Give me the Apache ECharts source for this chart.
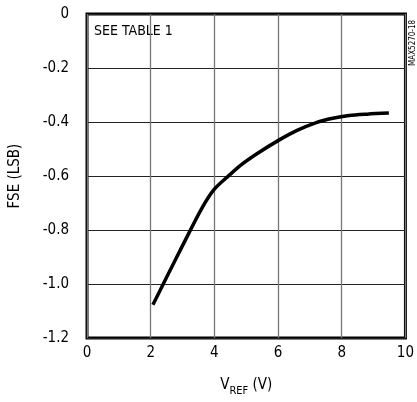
<!DOCTYPE html>
<html><head><meta charset="utf-8">
<script src="https://cdn.jsdelivr.net/npm/echarts@6/dist/echarts.min.js"></script>
<style>html,body{margin:0;padding:0;background:#fff}#c{width:417px;height:402px}</style>
</head><body><div id="c"></div>
<script>
const xTicks = [0, 2, 4, 6, 8, 10];
const yTicks = [0, -0.2, -0.4, -0.6, -0.8, -1.0, -1.2];
const vref = [2.07, 2.5, 3.0, 3.61, 4.0, 4.48, 4.84, 5.36, 6.0, 6.58, 7.2, 7.72, 8.23, 8.8, 9.48];
const fse  = [-1.077, -0.975, -0.858, -0.719, -0.649, -0.596, -0.559, -0.516, -0.469, -0.432, -0.402, -0.386, -0.376, -0.371, -0.367];
const FONT = '"DejaVu Sans Condensed","Liberation Sans Narrow","Arial Narrow",sans-serif';
const chart = echarts.init(document.getElementById('c'));
chart.setOption({
  animation: false,
  backgroundColor: '#fff',
  grid: {left: 82, right: 10, top: 14, bottom: 63, show: true, borderColor: '#000', borderWidth: 3, backgroundColor: 'transparent'},
  xAxis: {
    type: 'value', min: 0, max: 10, interval: 2,
    axisLine: {show: false}, axisTick: {show: false},
    splitLine: {show: true, lineStyle: {color: '#777', width: 1.3}},
    axisLabel: {color: '#000', fontFamily: FONT, fontSize: 15, margin: 8,
      formatter: v => xTicks.includes(v) ? String(v) : ''},
    name: '{v|V}{s|REF}{v| (V)}', nameLocation: 'middle', nameGap: 40,
    nameTextStyle: {rich: {
      v: {fontFamily: FONT, fontSize: 15, color: '#000'},
      s: {fontFamily: FONT, fontSize: 11, color: '#000', verticalAlign: 'bottom', padding: [0,0,-4,0]}
    }}
  },
  yAxis: {
    type: 'value', min: -1.2, max: 0, interval: 0.2,
    axisLine: {show: false}, axisTick: {show: false},
    splitLine: {show: true, lineStyle: {color: '#222', width: 1}},
    axisLabel: {color: '#000', fontFamily: FONT, fontSize: 15, margin: 18,
      formatter: v => { const r = Math.round(v*10)/10; return r === 0 ? '0' : (r === -1 ? '-1.0' : r.toFixed(1)); }},
    name: 'FSE (LSB)', nameLocation: 'middle', nameGap: 64,
    nameTextStyle: {fontFamily: FONT, fontSize: 15, color: '#000'}
  },
  graphic: [
    {type: 'text', left: 94, top: 24, style: {text: 'SEE TABLE 1', font: '14px ' + FONT, fill: '#000'}},
    {type: 'text', x: 409, y: 66, rotation: Math.PI/2, style: {text: 'MAX5270-18', font: '8px ' + FONT, fill: '#000'}}
  ],
  series: [{
    type: 'line', data: vref.map((x, i) => [x, fse[i]]), smooth: 0.3,
    symbol: 'none', lineStyle: {color: '#000', width: 3.5}
  }]
});
</script></body></html>
